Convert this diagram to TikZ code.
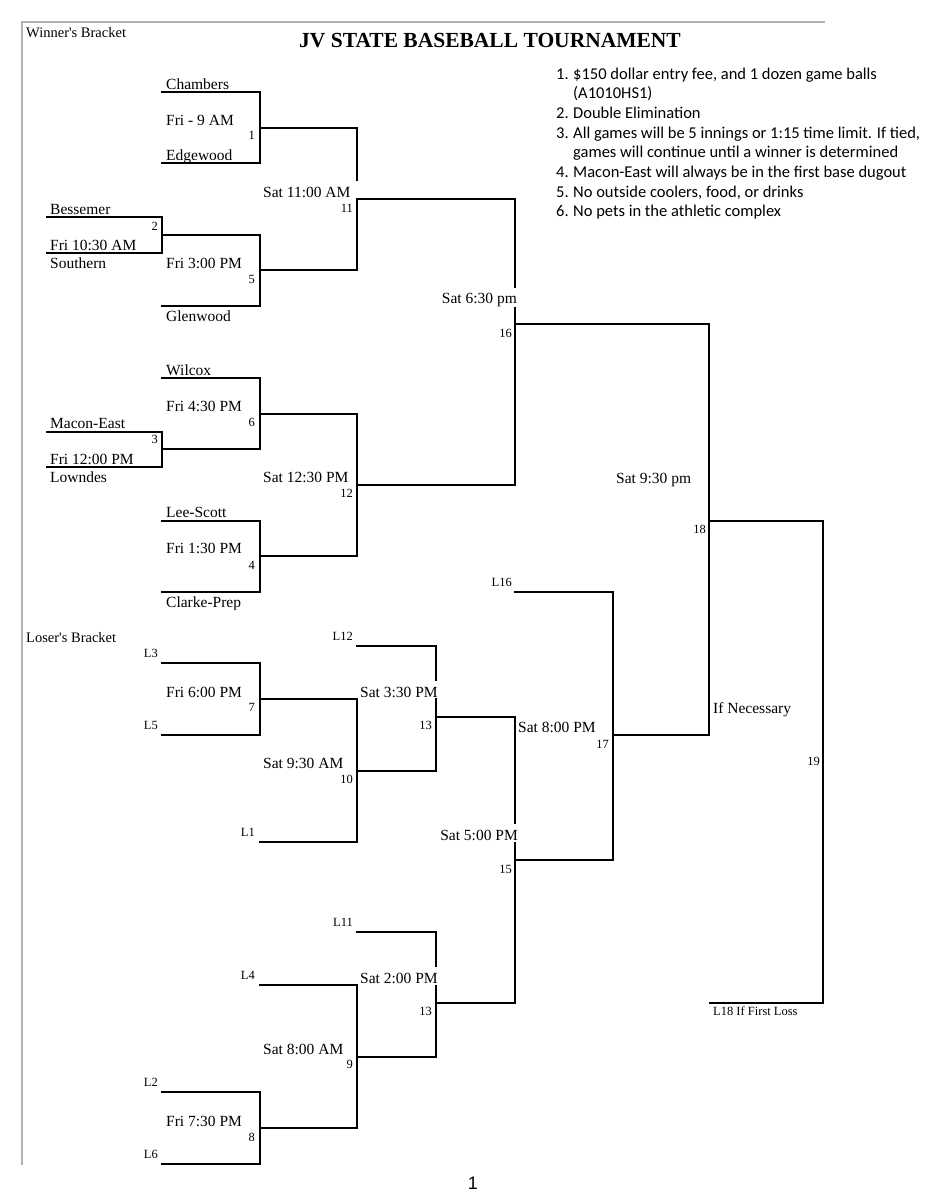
\documentclass[tikz,border=0pt]{standalone}
\usepackage{fontspec}
\setmainfont{Liberation Serif}
\newfontfamily\notesfont{Carlito}
\newfontfamily\pagefont{Liberation Sans}
\newcommand\mybrk[5]{%
  \coordinate (#1a) at (#2,#4); \coordinate (#1b) at (#3,#4);
  \coordinate (#1c) at (#3,#5); \coordinate (#1d) at (#2,#5);
  \draw[bl] (#1a) -- (#1b) -- (#1c) -- (#1d);}
\newcommand\myseg[5]{%
  \coordinate (#1a) at (#2,#3); \coordinate (#1b) at (#4,#5);
  \draw[bl] (#1a) -- (#1b);}
\begin{document}
\begin{tikzpicture}[x=1pt,y=-1pt,
  bl/.style={line width=1.6pt, line join=miter, line cap=rect},
  fr/.style={line width=1.3pt, color=black!30},
  team/.style={anchor=base west, inner sep=0pt, font=\fontsize{15.5}{18}\selectfont},
  teamr/.style={anchor=base east, inner sep=0pt, font=\fontsize{15.5}{18}\selectfont},
  gnum/.style={anchor=base east, inner sep=0pt, font=\fontsize{12.5}{14}\selectfont},
  small/.style={anchor=base west, inner sep=0pt, font=\fontsize{12.5}{14}\selectfont},
  head/.style={anchor=base west, inner sep=0pt, font=\fontsize{14.5}{17}\selectfont},
  note/.style={anchor=base west, inner sep=0pt, font=\notesfont\fontsize{16.5}{20}\selectfont}]
\useasboundingbox (0,0) rectangle (926,1200);
\fill[white] (0,0) rectangle (926,1200);
% frame
\coordinate (fa) at (22,22); \coordinate (fb) at (825,22); \coordinate (fc) at (22,1165);
\draw[fr] (fb) -- (fa) -- (fc);
% ---------- winner's bracket ----------
\mybrk{g1}{162}{260}{92}{163}
\myseg{o1}{260}{128}{357}{128}
\mybrk{g2}{47}{162}{217}{253}
\myseg{o2}{162}{235}{260}{235}
\coordinate (g5c) at (260,306); \coordinate (g5d) at (162,306);
\draw[bl] (o2b) -- (g5c) -- (g5d);
\myseg{o5}{260}{270}{357}{270}
\coordinate (g11u) at (357,180); \coordinate (g11v) at (357,199);
\draw[bl] (o1b) -- (g11u); \draw[bl] (g11v) -- (o5b);
\myseg{o11}{357}{199}{515}{199}
\myseg{o12}{357}{485}{515}{485}
\coordinate (g16u) at (515,287); \coordinate (g16v) at (515,308);
\draw[bl] (o11b) -- (g16u); \draw[bl] (g16v) -- (o12b);
\myseg{o16}{515}{324}{709}{324}
\mybrk{g6}{162}{260}{378}{449}
\mybrk{g3}{47}{162}{432}{467}
\myseg{o6}{260}{414}{357}{414}
\mybrk{g4}{162}{260}{521}{592}
\myseg{o4}{260}{556}{357}{556}
\draw[bl] (o6b) -- (o4b);
\myseg{o18}{709}{521}{823}{521}
\myseg{o17}{613}{735}{709}{735}
\draw[bl] (o16b) -- (o17b);
\coordinate (g19b) at (823,1003); \coordinate (g19a) at (710,1003);
\draw[bl] (o18b) -- (g19b) -- (g19a);
% ---------- loser's bracket ----------
\mybrk{g7}{162}{260}{663}{735}
\myseg{o7}{260}{699}{357}{699}
\coordinate (g10c) at (357,842); \coordinate (g10d) at (260,842);
\draw[bl] (o7b) -- (g10c) -- (g10d);
\myseg{o10}{357}{771}{436}{771}
\coordinate (l12a) at (357,646); \coordinate (l12b) at (436,646);
\coordinate (g13u) at (436,680); \coordinate (g13v) at (436,699);
\draw[bl] (l12a) -- (l12b) -- (g13u); \draw[bl] (g13v) -- (o10b);
\myseg{o13}{436}{717}{515}{717}
\myseg{p13}{436}{1003}{515}{1003}
\coordinate (g15u) at (515,823); \coordinate (g15v) at (515,843);
\draw[bl] (o13b) -- (g15u); \draw[bl] (g15v) -- (p13b);
\myseg{o15}{515}{860}{613}{860}
\coordinate (l16a) at (515,592); \coordinate (l16b) at (613,592);
\draw[bl] (l16a) -- (l16b) -- (o15b);
\myseg{o9}{357}{1057}{436}{1057}
\coordinate (l11a) at (357,932); \coordinate (l11b) at (436,932);
\coordinate (h13u) at (436,966); \coordinate (h13v) at (436,986);
\draw[bl] (l11a) -- (l11b) -- (h13u); \draw[bl] (h13v) -- (o9b);
\myseg{o8}{260}{1128}{357}{1128}
\coordinate (l4a) at (260,985); \coordinate (l4b) at (357,985);
\draw[bl] (l4a) -- (l4b) -- (o8b);
\mybrk{g8}{162}{260}{1092}{1164}
% ---------- headings ----------
\node[head] (wb) at (26,37) {Winner\textquotesingle s Bracket};
\node[head] (lb) at (26,642) {Loser\textquotesingle s Bracket};
\node[anchor=base, inner sep=0pt, font=\bfseries\fontsize{21.5}{24}\selectfont] (title) at (490,47) {JV STATE BASEBALL TOURNAMENT};
% ---------- notes ----------
\node[note] (n1) at (556,79) {1.};
\node[note] (n1t) at (573,79) {\$150 dollar entry fee, and 1 dozen game balls};
\node[note] (n1u) at (573,98.7) {(A1010HS1)};
\node[note] (n2) at (556,118.4) {2.};
\node[note] (n2t) at (573,118.4) {Double Elimination};
\node[note] (n3) at (556,138.1) {3.};
\node[note] (n3t) at (573,138.1) {All games will be 5 innings or 1:15 time limit. If tied,};
\node[note] (n3u) at (573,157.8) {games will continue until a winner is determined};
\node[note] (n4) at (556,177.5) {4.};
\node[note] (n4t) at (573,177.5) {Macon-East will always be in the first base dugout};
\node[note] (n5) at (556,197.2) {5.};
\node[note] (n5t) at (573,197.2) {No outside coolers, food, or drinks};
\node[note] (n6) at (556,216.9) {6.};
\node[note] (n6t) at (573,216.9) {No pets in the athletic complex};
% ---------- winner's bracket texts ----------
\node[team] (t1) at (166,89) {Chambers};
\node[team] (t2) at (166,125) {Fri - 9 AM};
\node[team] (t3) at (166,160) {Edgewood};
\node[team] (t4) at (263,197) {Sat 11:00 AM};
\node[team] (t5) at (50,214) {Bessemer};
\node[team] (t6) at (50,250) {Fri 10:30 AM};
\node[team] (t7) at (50,268) {Southern};
\node[team] (t8) at (166,268) {Fri 3:00 PM};
\node[team] (t9) at (166,321) {Glenwood};
\node[teamr] (t10) at (517,303) {Sat 6:30 pm};
\node[team] (t11) at (166,375) {Wilcox};
\node[team] (t12) at (166,411) {Fri 4:30 PM};
\node[team] (t13) at (50,428) {Macon-East};
\node[team] (t14) at (50,464) {Fri 12:00 PM};
\node[team] (t15) at (50,482) {Lowndes};
\node[team] (t16) at (263,482) {Sat 12:30 PM};
\node[team] (t17) at (166,517) {Lee-Scott};
\node[team] (t18) at (166,553) {Fri 1:30 PM};
\begin{scope}
\clip (150,585) rectangle (300,609.5);
\node[team] (t19) at (166,607.5) {Clarke-Prep};
\end{scope}
\node[team] (t20) at (616,483) {Sat 9:30 pm};
% ---------- loser's bracket texts ----------
\node[team] (t21) at (166,697) {Fri 6:00 PM};
\node[team] (t22) at (263,768) {Sat 9:30 AM};
\node[team] (t23) at (360,697) {Sat 3:30 PM};
\node[team] (t24) at (518,732) {Sat 8:00 PM};
\node[team] (t25) at (713,713) {If Necessary};
\node[teamr] (t26) at (518,840) {Sat 5:00 PM};
\node[team] (t27) at (360,983) {Sat 2:00 PM};
\node[team] (t28) at (263,1054) {Sat 8:00 AM};
\node[team] (t29) at (166,1126) {Fri 7:30 PM};
% ---------- game numbers ----------
\node[gnum] (m1) at (255,139) {1};
\node[gnum] (m11) at (353,212) {11};
\node[gnum] (m2) at (158,230) {2};
\node[gnum] (m5) at (255,283) {5};
\node[gnum] (m16) at (512,337) {16};
\node[gnum] (m6) at (255,426) {6};
\node[gnum] (m3) at (158,443) {3};
\node[gnum] (m12) at (353,497) {12};
\node[gnum] (m4) at (255,569) {4};
\node[gnum] (m18) at (706,533) {18};
\node[gnum] (m7) at (255,711) {7};
\node[gnum] (m13a) at (432,729) {13};
\node[gnum] (m10) at (353,783) {10};
\node[gnum] (m17) at (609,748) {17};
\node[gnum] (m19) at (820,765) {19};
\node[gnum] (m15) at (512,873) {15};
\node[gnum] (m13b) at (432,1015) {13};
\node[gnum] (m9) at (353,1068) {9};
\node[gnum] (m8) at (255,1141) {8};
% ---------- loser labels ----------
\node[gnum] (x12) at (353,640) {L12};
\node[gnum] (x3) at (158,657) {L3};
\node[gnum] (x5) at (158,729) {L5};
\node[gnum] (x1) at (255,836) {L1};
\node[gnum] (x16) at (512,586) {L16};
\node[gnum] (x11) at (353,926) {L11};
\node[gnum] (x4) at (255,979) {L4};
\node[gnum] (x2) at (158,1086) {L2};
\node[gnum] (x6) at (158,1158) {L6};
\node[small] (x18) at (713,1015) {L18 If First Loss};
% page number
\node[inner sep=0pt, font=\pagefont\fontsize{18}{20}\selectfont] (pg) at (473,1183) {1};
\end{tikzpicture}
\end{document}
